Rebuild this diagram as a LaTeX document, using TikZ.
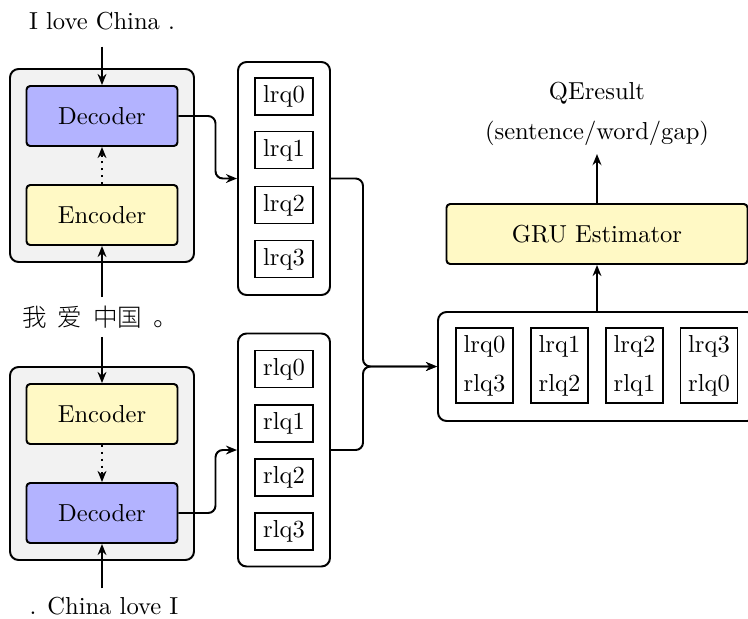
\documentclass[tikz,border=0pt]{standalone}
\usepackage{fontspec}
\newfontfamily\cjk{Noto Sans CJK SC}[UprightFont={* Light}]
\usetikzlibrary{arrows.meta,calc}

\definecolor{encfill}{RGB}{255,249,197}
\definecolor{decfill}{RGB}{179,179,255}
\definecolor{panelfill}{RGB}{242,242,242}

\newdimen\px
\px=0.01431cm

\tikzset{
  arr/.style={thick,-{Stealth[length=4.5pt,width=3.6pt]}},
  panel/.style={draw,thick,fill=panelfill,rounded corners=3.5pt,
    minimum width=184\px,minimum height=193\px},
  encblock/.style={draw,thick,fill=encfill,rounded corners=1.5pt,
    minimum width=151\px,minimum height=60\px},
  decblock/.style={draw,thick,fill=decfill,rounded corners=1.5pt,
    minimum width=151\px,minimum height=60\px},
  column/.style={draw,thick,rounded corners=3.5pt,
    minimum width=92\px,minimum height=233\px},
  qbox/.style={draw,thick,minimum width=58\px,minimum height=37\px,inner sep=1pt},
  pairbox/.style={draw,thick,minimum width=57\px,minimum height=75\px,
    align=center,inner sep=1pt},
}

\begin{document}
\begin{tikzpicture}[x=\px,y=-\px]
\useasboundingbox (0,0) rectangle (748,618);
\clip (0,0) rectangle (748,618);

% left-to-right translation model (upper)
\node[panel] (pan1) at (102,165.5) {};
\node[decblock] (dec1) at (102,116) {Decoder};
\node[encblock] (enc1) at (102,215) {Encoder};

% right-to-left translation model (lower)
\node[panel] (pan2) at (102,463.5) {};
\node[encblock] (enc2) at (102,414) {Encoder};
\node[decblock] (dec2) at (102,513) {Decoder};

% sentences
\node (tgt) at (102,21) {I love China .};
\node (src) at (100,317) {\cjk 我\hspace{0.45em}爱\hspace{0.45em}中国\hspace{0.45em}。};
\node (rtgt) at (104,606) {. China love I};

\draw[arr] (dec1.north |- tgt.south) ++(0,8) -- (dec1.north);
\draw[arr] (enc1.south |- src.north) -- (enc1.south);
\draw[arr] (enc2.north |- src.south) -- (enc2.north);
\draw[arr] (dec2.south |- rtgt.north) -- (dec2.south);
\draw[arr,dotted] (enc1.north) -- (dec1.south);
\draw[arr,dotted] (enc2.south) -- (dec2.north);

% feature columns
\node[column] (lrq) at (284,178.5) {};
\node[qbox] (lrq0) at (284,96.5) {lrq0};
\node[qbox] (lrq1) at (284,150) {lrq1};
\node[qbox] (lrq2) at (284,205) {lrq2};
\node[qbox] (lrq3) at (284,259) {lrq3};

\node[column] (rlq) at (284,450) {};
\node[qbox] (rlq0) at (284,369) {rlq0};
\node[qbox] (rlq1) at (284,423.5) {rlq1};
\node[qbox] (rlq2) at (284,477.5) {rlq2};
\node[qbox] (rlq3) at (284,531.5) {rlq3};

\draw[arr,rounded corners=3pt] (dec1.east) -- ++(37,0) |- (lrq.west);
\draw[arr,rounded corners=3pt] (dec2.east) -- ++(37,0) |- (rlq.west);

% combined features
\node[draw,thick,rounded corners=3.5pt,minimum width=318\px,minimum height=109\px]
  (comb) at (597,366.5) {};
\node[pairbox] (p0) at (484.5,365.5) {lrq0\\[4pt]rlq3};
\node[pairbox] (p1) at (559.5,365.5) {lrq1\\[4pt]rlq2};
\node[pairbox] (p2) at (634.5,365.5) {lrq2\\[4pt]rlq1};
\node[pairbox] (p3) at (709,365.5) {lrq3\\[4pt]rlq0};

\draw[arr,rounded corners=3pt] (lrq.east) -- ++(32,0) |- (comb.west);
\draw[arr,rounded corners=3pt] (rlq.east) -- ++(32,0) |- (comb.west);

% estimator and output
\node[encblock,minimum width=301\px] (gru) at (597,234) {GRU Estimator};
\node[align=center] (qe) at (597,114) {QEresult\\[4pt](sentence/word/gap)};

\draw[arr] (comb.north) -- (gru.south);
\draw[arr] (gru.north) -- (gru.north |- qe.south);
\end{tikzpicture}
\end{document}
